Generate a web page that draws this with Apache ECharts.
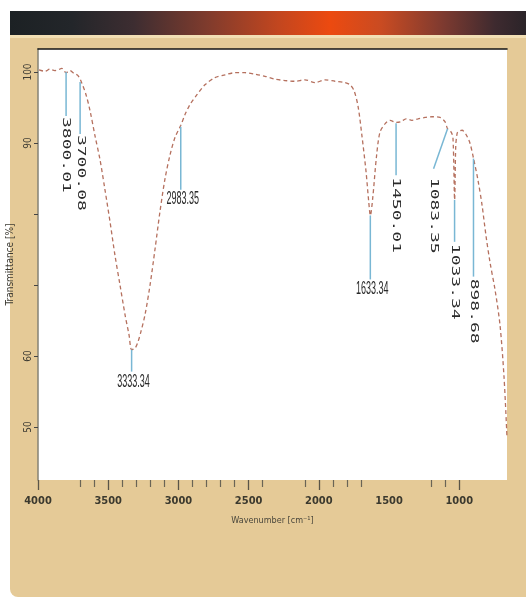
<!DOCTYPE html>
<html>
<head>
<meta charset="utf-8">
<script src="https://cdn.jsdelivr.net/npm/echarts@6.0.0/dist/echarts.min.js"></script>
<style>
    body { margin: 0; background: #fff; }
    #wrap { position: relative; width: 526px; height: 600px; overflow: hidden; }
    .panel { position: absolute; left: 10px; top: 35px; width: 516px; height: 562px; background: #e5ca97; border-bottom-left-radius: 8px; }
    .stripe { position: absolute; left: 10px; top: 35px; width: 516px; height: 3px; background: #f2dfb4; }
    .band { position: absolute; left: 10px; top: 11px; width: 516px; height: 24px;
        background: linear-gradient(90deg, #1c2124 0%, #23262a 12%, #3d2d31 24%, #7e3b2d 38%, #c2461f 52%, #ec4a10 62%, #c94b22 72%, #7d3a30 84%, #3e2a2f 94%, #2b2429 100%); }
    #chart { position: absolute; left: 0; top: 0; width: 526px; height: 600px; }
</style>
</head>
<body>
<div id="wrap">
    <div class="band"></div>
    <div class="panel"></div>
    <div class="stripe"></div>
    <div id="chart"></div>
</div>
<script>
// spectrum
var wavenumbers = [3993, 3950, 3915, 3880, 3858, 3830, 3800, 3772, 3744, 3715, 3687, 3658, 3630, 3594, 3558, 3523, 3487,
    3452, 3416, 3380, 3352, 3333, 3309, 3288, 3266, 3238, 3202, 3167, 3131, 3096, 3060, 3024, 2983, 2953, 2918, 2868,
    2811, 2740, 2668, 2597, 2526, 2455, 2383, 2312, 2241, 2170, 2099, 2027, 1956, 1885, 1814, 1778, 1750, 1721, 1693,
    1664, 1645, 1633, 1615, 1590, 1565, 1529, 1493, 1450, 1415, 1379, 1337, 1294, 1244, 1194, 1137, 1102, 1083, 1060,
    1045, 1033, 1025, 1016, 1009, 980, 952, 924, 898, 867, 838, 810, 781, 745, 710, 681, 660];
var transmittance = [100.3, 100.1, 100.4, 100.2, 100.3, 100.5, 99.9, 100.2, 99.8, 99.5, 98.4, 96.8, 94.6, 91.0, 87.6, 83.4, 78.9,
    74.2, 70.0, 65.8, 63.0, 60.9, 61.1, 62.0, 63.5, 65.8, 70.0, 75.0, 80.4, 84.9, 88.3, 90.8, 92.5, 94.0, 95.4, 96.8,
    98.2, 99.2, 99.6, 99.9, 99.9, 99.7, 99.4, 99.0, 98.8, 98.7, 98.9, 98.5, 98.9, 98.7, 98.5, 98.2, 97.4, 95.2, 91.0,
    86.0, 81.8, 79.8, 82.5, 88.0, 91.5, 92.7, 93.2, 92.9, 93.0, 93.4, 93.2, 93.4, 93.6, 93.7, 93.6, 93.0, 92.0, 91.6,
    90.8, 82.0, 89.6, 91.3, 91.6, 91.8, 91.2, 90.0, 87.8, 84.8, 81.3, 77.0, 73.2, 69.3, 64.4, 57.0, 48.5];

// labelled peaks
var peakWn = [3800.01, 3700.08, 3333.34, 2983.35, 1633.34, 1450.01, 1083.35, 1033.34, 898.68];
var peakT = [100.0, 98.6, 60.9, 92.3, 79.8, 92.8, 92.0, 82.0, 87.8];

var xLabels = [4000, 3500, 3000, 2500, 2000, 1500, 1000];
var xMajorTicks = [4000, 3500, 3000, 2500, 2000, 1000];
var xMinorTicks = [3700, 3600, 3400, 3300, 3200, 3100, 2900, 2800, 2700, 2600, 2400, 2100, 1900, 1800, 1700, 1200, 1100];
var yLabels = [100, 90, 60, 50];
var yTicks = [50, 60, 70, 80, 90, 100];

// how each peak tag is drawn (leader length in px, sideways shift, text orientation)
var tagLayout = [
    {len: 44, dx: 0, gap: 1, vertical: true},
    {len: 52, dx: 0, gap: 1, vertical: true},
    {len: 22, dx: 0, gap: 1, vertical: false},
    {len: 63, dx: 0, gap: 0, vertical: false},
    {len: 64, dx: 0, gap: 1, vertical: false},
    {len: 52, dx: 0, gap: 2, vertical: true},
    {len: 40, dx: -14, gap: 9, vertical: true},
    {len: 42, dx: 0, gap: 2, vertical: true},
    {len: 118, dx: 0, gap: 2, vertical: true}
];

var chart = echarts.init(document.getElementById('chart'), null, {renderer: 'canvas'});

var spectrum = wavenumbers.map(function (w, i) { return [w, transmittance[i]]; });
var peaks = peakWn.map(function (w, i) { return [w, peakT[i], i]; });

var condensed = '"DejaVu Sans Condensed", "DejaVu Sans", sans-serif';
var xBase = {
    type: 'value', min: 660, max: 4000, inverse: true,
    splitLine: {show: false}
};

var option = {
    animation: false,
    grid: {
        left: 38, right: 19, top: 49, bottom: 120,
        show: true, backgroundColor: '#fff', borderWidth: 0,
        outerBoundsMode: 'none'
    },
    xAxis: [
        Object.assign({}, xBase, {
            position: 'bottom',
            axisLine: {show: false},
            axisTick: {show: true, customValues: xMajorTicks, length: 10, lineStyle: {color: '#5a5548', width: 1.3}},
            axisLabel: {
                customValues: xLabels, margin: 16,
                formatter: function (v) { return String(v); },
                color: '#3b392e', fontSize: 11, fontWeight: 'bold', fontFamily: condensed
            },
            name: 'Wavenumber [cm⁻¹]', nameLocation: 'middle', nameGap: 36,
            nameTextStyle: {color: '#4a473c', fontSize: 9, fontFamily: condensed}
        }),
        Object.assign({}, xBase, {
            position: 'bottom',
            axisLine: {show: false},
            axisTick: {show: true, customValues: xMinorTicks, length: 7, lineStyle: {color: '#6a6456', width: 1.2}},
            axisLabel: {show: false}
        }),
        Object.assign({}, xBase, {
            position: 'top',
            axisLine: {show: true, lineStyle: {color: '#151515', width: 1.6}},
            axisTick: {show: false},
            axisLabel: {show: false}
        })
    ],
    yAxis: {
        type: 'value', min: 42.54, max: 103.24,
        splitLine: {show: false},
        axisLine: {show: true, lineStyle: {color: '#858274', width: 1.5}},
        axisTick: {show: true, customValues: yTicks, length: 4, lineStyle: {color: '#444'}},
        axisLabel: {
            customValues: yLabels, rotate: 90, margin: 5,
            color: '#3d3b33', fontSize: 10, fontFamily: condensed
        },
        name: 'Transmittance [%]', nameLocation: 'middle', nameGap: 8,
        nameTextStyle: {color: '#3d3b33', fontSize: 10, fontFamily: condensed}
    },
    series: [{
        type: 'line',
        data: spectrum,
        showSymbol: false,
        smooth: 0.3,
        z: 2,
        lineStyle: {color: '#b5705e', width: 1.3, type: [4, 3]}
    }, {
        type: 'custom',
        data: peaks,
        encode: {x: 0, y: 1},
        z: 3,
        renderItem: function (params, api) {
            var lay = tagLayout[api.value(2)];
            var p = api.coord([api.value(0), api.value(1)]);
            var ex = p[0] + lay.dx, ey = p[1] + lay.len;
            var txt = api.value(0).toFixed(2);
            var kids = [{
                type: 'line',
                shape: {x1: p[0], y1: p[1], x2: ex, y2: ey},
                style: {stroke: '#79b7d4', lineWidth: 1.5}
            }];
            if (lay.vertical) {
                kids.push({
                    type: 'text', x: ex, y: ey + lay.gap,
                    rotation: -Math.PI / 2, scaleX: 1.8,
                    style: {text: txt, fill: '#2a2a2a', font: '10px "DejaVu Sans Mono"', align: 'left', verticalAlign: 'middle'}
                });
            } else {
                kids.push({
                    type: 'text', x: ex + 2, y: ey + lay.gap,
                    scaleX: 0.5,
                    style: {text: txt, fill: '#2a2a2a', font: '18px "Liberation Sans"', align: 'center', verticalAlign: 'top'}
                });
            }
            return {type: 'group', children: kids};
        }
    }]
};

chart.setOption(option);
</script>
</body>
</html>
